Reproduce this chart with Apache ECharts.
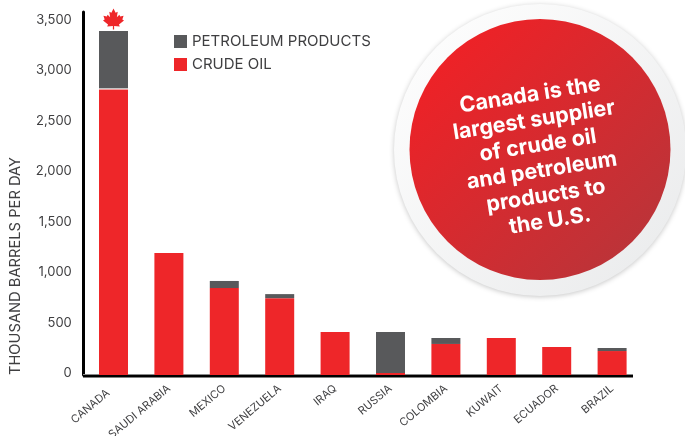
<!DOCTYPE html>
<html>
<head>
<meta charset="utf-8">
<style>html,body{margin:0;padding:0;background:#fff}#c{width:685px;height:436px}</style>
<script src="https://cdn.jsdelivr.net/npm/echarts@6/dist/echarts.min.js"></script>
</head>
<body>
<div id="c"></div>
<script>
const categories = ['CANADA','SAUDI ARABIA','MEXICO','VENEZUELA','IRAQ','RUSSIA','COLOMBIA','KUWAIT','ECUADOR','BRAZIL'];
const crudeOil = [2829,1207,860,760,425,20,307,366,277,237];
const petroleumProducts = [573,0,70,40,0,405,59,0,0,30];
const yTicks = {min:0,max:3590,interval:500};
const calloutText = 'Canada is the\nlargest supplier\nof crude oil\nand petroleum\nproducts to\nthe U.S.';
const font = 'Inter';
const leaf = 'path://M50 0 L60 20 L70 15 L66 42 L78 30 L82 38 L98 35 L92 52 L100 57 L76 76 L80 86 L53 83 L53 100 L47 100 L47 83 L20 86 L24 76 L0 57 L8 52 L2 35 L18 38 L22 30 L34 42 L30 15 L40 20 Z';

const chart = echarts.init(document.getElementById('c'), null, {renderer:'canvas'});
chart.setOption({
  animation:false,
  backgroundColor:'#fff',
  textStyle:{fontFamily:font},
  grid:{left:85.8,width:554,top:12,height:363,containLabel:false,outerBoundsMode:'none'},
  legend:{
    orient:'vertical',left:169,top:29,itemWidth:13,itemHeight:13,itemGap:8,
    icon:'rect',
    data:['PETROLEUM PRODUCTS','CRUDE OIL'],
    textStyle:{fontSize:15,color:'#3f3f41',fontFamily:font}
  },
  xAxis:{
    type:'category',
    data:categories.map((c,i)=>i===0?{value:c,textStyle:{padding:[0,7,0,0]}}:c),
    axisLine:{show:false},axisTick:{show:false},
    axisLabel:{interval:0,rotate:40,fontSize:11,color:'#3f3f41',margin:12,fontFamily:font}
  },
  yAxis:{
    type:'value',min:yTicks.min,max:yTicks.max,interval:yTicks.interval,
    offset:3,
    splitLine:{show:false},axisTick:{show:false},
    axisLine:{show:true,lineStyle:{color:'#000',width:3}},
    axisLabel:{showMaxLabel:false,fontSize:13,color:'#3f3f41',margin:11,verticalAlign:'bottom',lineHeight:3,fontFamily:font,
      formatter:v=>v.toLocaleString('en-US')}
  },
  series:[
    {name:'CRUDE OIL',type:'bar',stack:'t',barWidth:29,itemStyle:{color:'#ee2629'},
     data:crudeOil},
    {name:'PETROLEUM PRODUCTS',type:'bar',stack:'t',barWidth:29,itemStyle:{color:'#58595b'},
     data:petroleumProducts,
     markPoint:{silent:true,label:{show:false},
       data:[
         {coord:[categories[0],3521],symbol:leaf,symbolSize:[21,21],itemStyle:{color:'#ee2629'}},
         {coord:[categories[0],crudeOil[0]],symbol:'rect',symbolSize:[29,1.2],itemStyle:{color:'#fff'}}
       ]}}
  ],
  graphic:[
    {type:'line',z:1,shape:{x1:83,y1:374.5,x2:633,y2:374.5},style:{stroke:'#8a8a8a',lineWidth:1}},
    {type:'line',z:20,shape:{x1:83,y1:376.2,x2:633,y2:376.2},style:{stroke:'#000',lineWidth:2.5}},
    {type:'text',z:20,x:16,y:266,rotation:Math.PI/2,
      style:{text:'THOUSAND BARRELS PER DAY',font:'14.7px '+font,fill:'#3f3f41',align:'center',verticalAlign:'middle'}},
    {type:'circle',z:10,shape:{cx:540,cy:150,r:146},
      style:{fill:new echarts.graphic.LinearGradient(0,0,1,1,[{offset:0,color:'#ffffff'},{offset:1,color:'#e9eaeb'}]),
      shadowBlur:5,shadowColor:'rgba(0,0,0,0.22)',shadowOffsetX:0,shadowOffsetY:1}},
    {type:'circle',z:11,shape:{cx:540,cy:149.5,r:130.5},
      style:{fill:new echarts.graphic.LinearGradient(0.15,0.15,0.85,0.85,[{offset:0,color:'#ed2227'},{offset:1,color:'#bd3338'}])}},
    {type:'text',z:12,x:540,y:158,rotation:9*Math.PI/180,originX:0,originY:0,
      style:{text:calloutText,font:'bold 21.5px '+font,fill:'#fff',align:'center',verticalAlign:'middle',lineHeight:25.5}}
  ]
});
</script>
</body>
</html>
